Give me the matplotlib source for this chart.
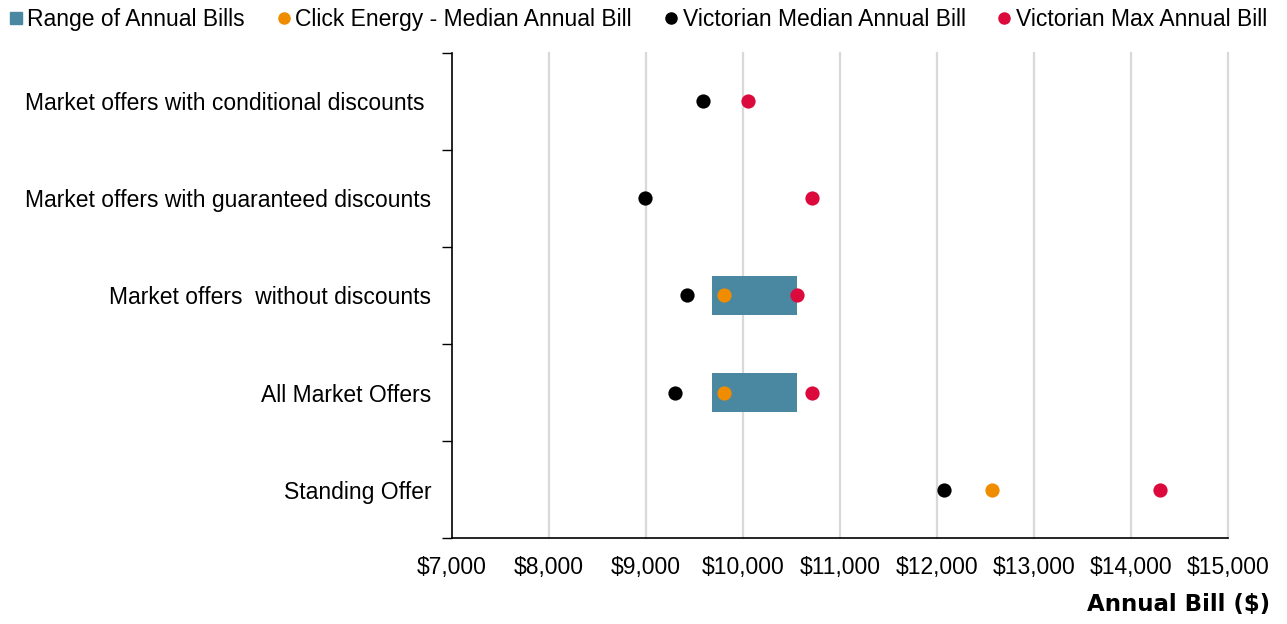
import matplotlib.pyplot as plt
from matplotlib.lines import Line2D
import numpy as np

# Data (top to bottom)
categories = ['Market offers with conditional discounts ',
              'Market offers with guaranteed discounts',
              'Market offers  without discounts',
              'All Market Offers',
              'Standing Offer']
range_low = [np.nan, np.nan, 9680, 9680, np.nan]
range_high = [np.nan, np.nan, 10560, 10560, np.nan]
click_median = [np.nan, np.nan, 9800, 9800, 12570]
vic_median = [9590, 8990, 9420, 9300, 12070]
vic_max = [10050, 10710, 10560, 10710, 14300]

teal = '#4A87A0'
orange = '#F08C00'
red = '#DC0A3C'

plt.rcParams['font.family'] = ['Liberation Sans', 'DejaVu Sans']
fs = 16.5

fig = plt.figure(figsize=(12.87, 6.24), dpi=100)
ax = fig.add_axes([0.3512, 0.1378, 0.6030, 0.7773])

y = np.arange(len(categories))
lo = np.array(range_low)
hi = np.array(range_high)
ax.barh(y, hi - lo, left=lo, height=0.4, color=teal, zorder=2)
ax.scatter(vic_median, y, s=105, color='black', zorder=3, linewidths=0)
ax.scatter(click_median, y, s=105, color=orange, zorder=3, linewidths=0)
ax.scatter(vic_max, y, s=105, color=red, zorder=3, linewidths=0)

ax.set_xlim(7000, 15000)
ax.set_ylim(len(categories) - 0.5, -0.5)
ax.set_xticks(np.arange(7000, 15001, 1000))
ax.set_xticklabels([f'${v:,}' for v in range(7000, 15001, 1000)], fontsize=fs)
ax.set_yticks(y)
ax.set_yticklabels(categories, fontsize=fs)
ax.set_yticks(np.arange(-0.5, len(categories)), minor=True)
ax.tick_params(axis='y', which='major', length=0, pad=15)
ax.tick_params(axis='y', which='minor', length=7, width=1, direction='out')
ax.tick_params(axis='x', length=0, pad=13)

# vertical gridlines
for v in range(8000, 15001, 1000):
    ax.axvline(v, color='#D9D9D9', lw=1.6, zorder=1, clip_on=False)

for s in ['top', 'right']:
    ax.spines[s].set_visible(False)
ax.spines['left'].set_linewidth(1.2)
ax.spines['bottom'].set_linewidth(1.2)

fig.text(0.987, 0.013, 'Annual Bill ($)', ha='right', va='bottom',
         fontsize=fs, fontweight='bold', family='DejaVu Sans')

handles = [
    Line2D([], [], marker='s', linestyle='none', color=teal, markersize=8),
    Line2D([], [], marker='o', linestyle='none', color=orange, markersize=8),
    Line2D([], [], marker='o', linestyle='none', color='black', markersize=8),
    Line2D([], [], marker='o', linestyle='none', color=red, markersize=8),
]
labels = ['Range of Annual Bills', 'Click Energy - Median Annual Bill',
          'Victorian Median Annual Bill', 'Victorian Max Annual Bill']
fig.legend(handles, labels, loc='upper left', bbox_to_anchor=(-0.0125, 1.02), ncol=4,
           frameon=False, fontsize=fs, handletextpad=0.0, columnspacing=1.2,
           handlelength=1.0)

fig.savefig('out.png', dpi=100)
